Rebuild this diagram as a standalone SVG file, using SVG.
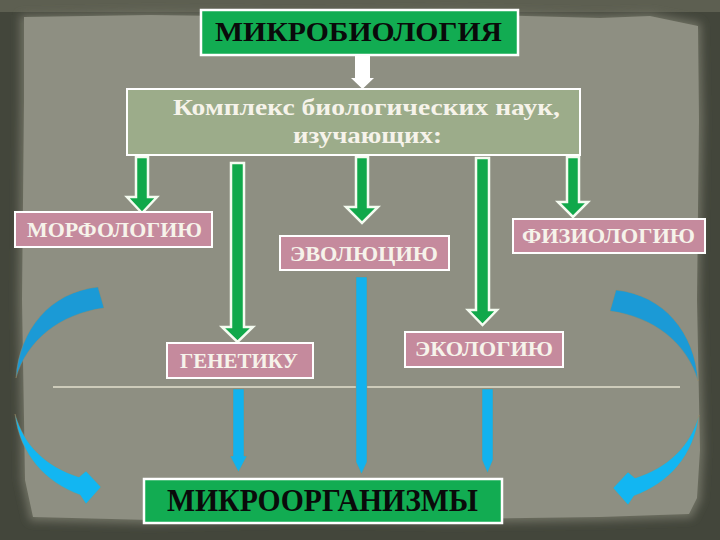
<svg xmlns="http://www.w3.org/2000/svg" width="720" height="540" viewBox="0 0 720 540">
<defs>
<style>
.green{fill:#12ac52;stroke:#ffffff;stroke-width:2.5}
.sage{fill:#9cac8a;stroke:#ffffff;stroke-width:2}
.pink{fill:#c58a9d;stroke:#ffffff;stroke-width:2}
.tdark{font-family:"Liberation Serif","DejaVu Serif",serif;font-weight:bold;fill:#0a0a0a;text-anchor:middle}
.tlight{font-family:"Liberation Serif","DejaVu Serif",serif;font-weight:bold;fill:#f6f3ea;text-anchor:middle}
.garrow{fill:#10a84a;stroke:#f4fbf0;stroke-width:2.5;stroke-linejoin:miter}
.barrow{fill:#12b2ee;stroke:#a88a58;stroke-width:0.8;stroke-opacity:0.5}
.arcdark{fill:#1b9ad6;stroke:#a88a58;stroke-width:0.8;stroke-opacity:0.5}
.arclight{fill:#12b6f2;stroke:#a88a58;stroke-width:0.8;stroke-opacity:0.5}
</style>
<filter id="soft" x="-5%" y="-5%" width="110%" height="110%">
<feGaussianBlur stdDeviation="4"/>
</filter>
</defs>

<g id="background">
<rect x="0" y="0" width="720" height="540" fill="#43463b"/>
<rect x="0" y="0" width="720" height="12" fill="#5d5f51"/>
<path d="M20 15 L150 12 L300 14 L450 11 L600 15 L650 13 L701 23 L703 120 L700 300 L704 450 L701 500 L692 518 L600 521 L450 523 L300 520 L150 524 L30 521 L21 480 L18 300 L20 100 Z" fill="#6f7164" filter="url(#soft)"/>
<path d="M24 17 L150 15 L300 17 L450 14 L600 18 L650 16 L698 26 L699 120 L697 300 L700 450 L697 498 L689 514 L600 517 L450 519 L300 516 L150 520 L33 517 L25 480 L22 300 L24 100 Z" fill="#8e8f82"/>
<line x1="53" y1="387" x2="680" y2="387" stroke="#e2dfcd" stroke-width="1.3"/>
</g>

<g id="connectors">
<path d="M355 55 L370 55 L370 78 L374 78 L362.5 89 L351 78 L355 78 Z" fill="#ffffff"/>
<path class="garrow" d="M136 157 L148 157 L148 197 L157 197 L142 213 L127 197 L136 197 Z"/>
<path class="garrow" d="M231 163 L244 163 L244 327 L253 327 L237.5 342 L222 327 L231 327 Z"/>
<path class="garrow" d="M356 157 L368 157 L368 207 L378 207 L362 223 L346 207 L356 207 Z"/>
<path class="garrow" d="M476 158 L489 158 L489 310 L497 310 L482.5 325 L468 310 L476 310 Z"/>
<path class="garrow" d="M567 157 L579 157 L579 202 L588 202 L573 217 L558 202 L567 202 Z"/>
<path class="barrow" d="M356 277 L367 277 L367 462 L361.5 474 L356 462 Z"/>
<path class="barrow" d="M233 389 L244 389 L244 456 L247 456 L238.5 472 L230 456 L233 456 Z"/>
<path class="barrow" d="M482 389 L493 389 L493 460 L487.5 473 L482 460 Z"/>
<path class="arcdark" d="M98 287 C50 292 19 330 16 378 C27 340 60 314 104 308 Z"/>
<path class="arclight" d="M15 414 C20 455 45 482 80 495 L86 504 L101 487 L86 471 L79 477 C45 466 24 445 15 414 Z"/>
<g transform="translate(714,3) scale(-1,1)">
<path class="arcdark" d="M98 287 C50 292 19 330 16 378 C27 340 60 314 104 308 Z"/>
<path class="arclight" d="M15 412 C20 453 45 480 80 493 L86 502 L101 485 L86 469 L79 475 C45 464 24 443 15 412 Z"/>
</g>
</g>

<g id="node-microbiology">
<rect class="green" x="201" y="10" width="317" height="45"/>
<text class="tdark" x="358.5" y="41" font-size="27" textLength="287" lengthAdjust="spacingAndGlyphs">МИКРОБИОЛОГИЯ</text>
</g>

<g id="node-complex">
<rect class="sage" x="127" y="89" width="453" height="66"/>
<text class="tlight" x="366.5" y="115" font-size="24" textLength="387" lengthAdjust="spacingAndGlyphs">Комплекс биологических наук,</text>
<text class="tlight" x="367.5" y="143" font-size="24" textLength="149" lengthAdjust="spacingAndGlyphs">изучающих:</text>
</g>

<g id="node-morphology">
<rect class="pink" x="15" y="212" width="197" height="35"/>
<text class="tlight" x="114.5" y="237" font-size="21" textLength="175" lengthAdjust="spacingAndGlyphs">МОРФОЛОГИЮ</text>
</g>

<g id="node-evolution">
<rect class="pink" x="280" y="236" width="169" height="34"/>
<text class="tlight" x="364" y="261" font-size="21" textLength="148" lengthAdjust="spacingAndGlyphs">ЭВОЛЮЦИЮ</text>
</g>

<g id="node-physiology">
<rect class="pink" x="513" y="219" width="192" height="34"/>
<text class="tlight" x="608.5" y="243" font-size="21" textLength="173" lengthAdjust="spacingAndGlyphs">ФИЗИОЛОГИЮ</text>
</g>

<g id="node-genetics">
<rect class="pink" x="167" y="343" width="146" height="35"/>
<text class="tlight" x="239" y="368" font-size="21" textLength="118" lengthAdjust="spacingAndGlyphs">ГЕНЕТИКУ</text>
</g>

<g id="node-ecology">
<rect class="pink" x="405" y="332" width="158" height="35"/>
<text class="tlight" x="484" y="356" font-size="21" textLength="138" lengthAdjust="spacingAndGlyphs">ЭКОЛОГИЮ</text>
</g>

<g id="node-microorganisms">
<rect class="green" x="144" y="479" width="358" height="44"/>
<text class="tdark" x="322.5" y="511" font-size="31" textLength="311" lengthAdjust="spacingAndGlyphs">МИКРООРГАНИЗМЫ</text>
</g>
</svg>
